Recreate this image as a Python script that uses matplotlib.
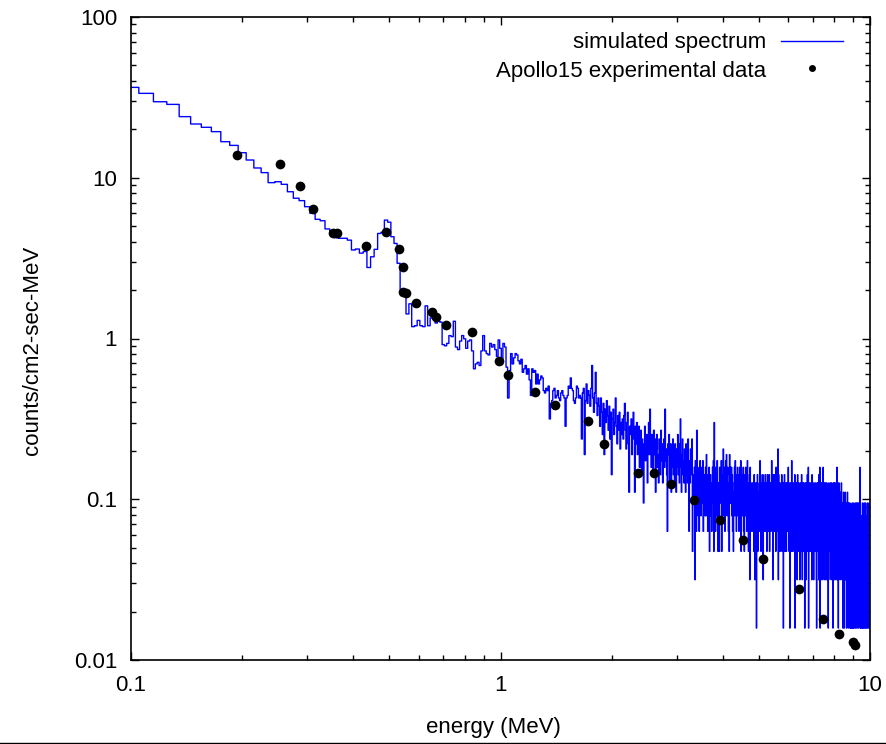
import numpy as np
import matplotlib
matplotlib.use('Agg')
import matplotlib.pyplot as plt
from matplotlib.lines import Line2D
from matplotlib.ticker import FixedLocator, FixedFormatter, LogLocator, NullFormatter

plt.rcParams['font.family'] = ['Liberation Sans', 'DejaVu Sans']

# one count in a 0.01 MeV bin, in counts/cm2-sec-MeV
count_unit = 0.0158
bin_start = 0.10
bin_width = 0.01

# simulated spectrum, counts per bin (bins centred at 0.10, 0.11, ... MeV)
counts_low = [2310, 2120, 1880, 1810, 1519, 1367, 1304, 1225, 1061, 1006,
              906, 816, 728, 681, 590, 598, 576, 518, 472, 456,
              418, 380, 349, 342, 304, 285, 268, 266, 266, 259,
              225, 228, 215, 220, 175, 204, 227, 285, 290, 345, 335]   # 0.10 - 0.50
counts_peak = [272, 247, 186, 127, 126, 90, 104, 75, 76, 82,
               76, 75, 101, 76, 85, 84, 79, 81, 80, 58,
               57, 59, 66, 65, 81, 56, 54, 61, 66, 63,
               55, 61]                                                  # 0.51 - 0.82
counts_mid = [62, 53, 41, 44, 45, 43, 53, 66, 53, 51, 50, 59, 56, 58, 54, 49, 62, 55,
              46, 59, 56, 42, 27, 40, 51, 44, 48, 51,
              50, 46, 44, 47, 39, 41, 43, 38, 41, 35,
              28, 41, 39, 40, 33, 38, 33, 35, 37, 36,
              30, 29, 31, 30, 32, 20, 25, 26, 30, 31,
              27, 28, 30, 27, 26, 29, 30, 28, 27, 18,
              27, 28, 32, 31, 36, 31, 30, 26, 25, 27,
              32, 31, 27, 28]                                           # 0.83 - 1.64
counts_high = [27, 15, 29, 31, 12, 26, 33, 25, 30, 28,
               24, 31, 43, 27, 22, 29, 39, 25, 21, 27,
               24, 18, 27, 22, 16, 25, 12, 23, 19, 26,
               21, 17, 24, 15, 22, 9, 20, 23, 16, 19,
               27, 18, 14, 21, 17, 22, 13, 19, 16, 20,
               15, 21, 25, 17, 13, 19, 22, 14, 7, 18,
               16, 20, 12, 17, 22, 15, 7, 18, 14, 19,
               12, 16, 18, 10, 14, 17, 9, 15, 13, 6,
               14, 18, 11, 13, 16, 8, 15, 19, 12, 23,
               13, 10, 16, 14, 9, 17, 12, 15, 7, 13,
               16, 10, 12, 8, 15, 13, 9, 17, 11, 14,
               8, 12, 15, 10, 23, 11, 13, 9, 4, 14,
               12, 16, 8, 11, 14, 7, 13, 10, 15, 9,
               12, 8, 14, 11, 7, 13, 10, 16, 9, 12,
               8, 14, 20, 10, 7, 12, 15, 9, 11, 8,
               13, 10, 7, 14, 9, 12, 8, 15, 10, 4,
               11, 8, 13, 9, 12]                                        # 1.65 - 3.29
# 3.30 - 9.99 MeV, one base-36 digit per bin, ten bins per chunk
tail_3 = ("f3968a2b74" "h6a5947b85" "7a6b48965a" "5c79468a36" "95847a6b3j"
          "6a4859b736" "83a697b395")
tail_4 = ("7d5a849b6c" "59a7483c6a" "86a5947368" "a5b68497a5" "6947a58b36"
          "9568a47396" "5a7946b853" "7692a58467" "5847639528" "6471859364")
tail_5 = ("7584b69357" "4869276584" "6958473695" "8465937486" "57b4862948"
          "6948573a64" "7584d29637" "5846375948" "6381745963" "4758364857")
tail_6 = ("5a48376158" "4637b58364" "5847369158" "3746825947" "6385472638"
          "4759362847" "5836471583" "7428563947" "4a16385746" "3857462948")
tail_7 = ("5736284736" "4685372158" "3648572946" "57a1483628" "4635728a47"
          "3748256384" "6253847362" "4172836547" "5384627385" "3647152846")
tail_8 = ("5286374628" "4736a25847" "3152846375" "4625374836" "5243615372"
          "3516243752" "4362153647" "2534162435" "3461253142" "5213462531")
tail_9 = ("4152634213" "3524613542" "2631542364" "415236425a" "3162453124"
          "5241362514" "2453162435" "4136254132" "3524162543" "2415362413")

# Apollo 15 measured points
apollo_energy = [0.194, 0.253, 0.287, 0.311, 0.352, 0.361, 0.433, 0.490, 0.531, 0.545,
                 0.545, 0.555, 0.591, 0.653, 0.669, 0.712, 0.838, 0.991, 1.048, 1.24,
                 1.404, 1.725, 1.906, 2.356, 2.603, 2.893, 3.339, 3.927, 4.532, 5.133,
                 6.425, 7.461, 8.244, 8.995, 9.108]
apollo_flux = [13.85, 12.18, 8.89, 6.39, 4.53, 4.53, 3.76, 4.63, 3.61, 2.79,
               1.95, 1.92, 1.66, 1.46, 1.36, 1.21, 1.10, 0.724, 0.593, 0.465,
               0.386, 0.307, 0.221, 0.146, 0.146, 0.124, 0.099, 0.074, 0.056, 0.0425,
               0.0276, 0.0180, 0.0145, 0.0129, 0.0124]

x_ticks = [0.1, 1, 10]
x_labels = ['0.1', '1', '10']
y_ticks = [0.01, 0.1, 1, 10, 100]
y_labels = ['0.01', '0.1', '1', '10', '100']

tail = tail_3 + tail_4 + tail_5 + tail_6 + tail_7 + tail_8 + tail_9
counts = np.array(counts_low + counts_peak + counts_mid + counts_high
                  + [int(c, 36) for c in tail], dtype=float)
energy = bin_start + bin_width * np.arange(len(counts))
flux = counts * count_unit

W, H = 886, 744
fig = plt.figure(figsize=(W / 100, H / 100), dpi=100)
ax = fig.add_axes([131 / W, 1 - 660 / H, (870 - 131) / W, (660 - 17) / H])

ax.step(energy, flux, where='mid', color='#0000ff', lw=1.0)
ax.plot(apollo_energy, apollo_flux, 'o', color='black', ms=7, mew=0)

ax.set_xscale('log')
ax.set_yscale('log')
ax.set_xlim(0.1, 10)
ax.set_ylim(0.01, 100)

ax.xaxis.set_major_locator(FixedLocator(x_ticks))
ax.xaxis.set_major_formatter(FixedFormatter(x_labels))
ax.yaxis.set_major_locator(FixedLocator(y_ticks))
ax.yaxis.set_major_formatter(FixedFormatter(y_labels))
ax.xaxis.set_minor_locator(LogLocator(base=10, subs=np.arange(2, 10), numticks=20))
ax.yaxis.set_minor_locator(LogLocator(base=10, subs=np.arange(2, 10), numticks=20))
ax.xaxis.set_minor_formatter(NullFormatter())
ax.yaxis.set_minor_formatter(NullFormatter())

ax.tick_params(which='both', direction='in', top=True, right=True, width=1.0, labelsize=16)
ax.tick_params(which='major', length=6)
ax.tick_params(which='minor', length=3.5)
ax.tick_params(axis='x', pad=11)
ax.tick_params(axis='y', pad=10)
for s in ax.spines.values():
    s.set_linewidth(1.2)

fig.text(493 / W, 1 - 727 / H, 'energy (MeV)', ha='center', va='center', fontsize=16)
fig.text(33 / W, 1 - 350 / H, 'counts/cm2-sec-MeV', rotation=90,
         ha='center', va='center', fontsize=16)

# legend, gnuplot style: right-justified text, sample on the right
fig.text(766 / W, 1 - 48.3 / H, 'simulated spectrum', ha='right', va='baseline', fontsize=16)
fig.add_artist(Line2D([781 / W, 843 / W], [1 - 40.7 / H] * 2, color='#0000ff', lw=1.0))
fig.text(766 / W, 1 - 76.7 / H, 'Apollo15 experimental data', ha='right', va='baseline', fontsize=16)
fig.add_artist(Line2D([812 / W], [1 - 68.3 / H], marker='o', color='black', ms=5, mew=0))

# page border line at the bottom
fig.add_artist(Line2D([0, 1], [1 - 742.5 / H] * 2, color='black', lw=1.0))

fig.savefig('out.png', dpi=100)
